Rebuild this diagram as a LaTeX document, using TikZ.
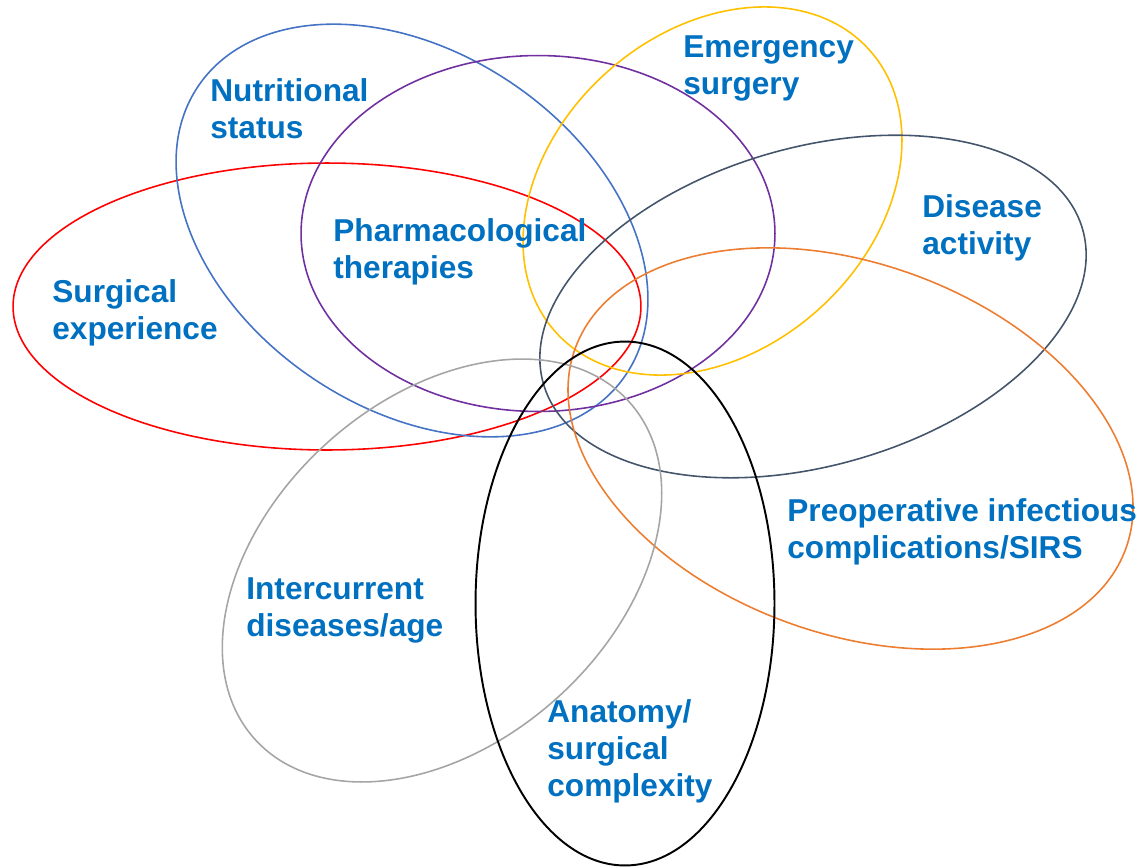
\documentclass[tikz,border=0pt]{standalone}
\usepackage{fontspec}
\setmainfont{Liberation Sans}
\usepackage{tikz}
\usetikzlibrary{shapes.geometric}

\definecolor{ringred}{HTML}{FF0000}
\definecolor{ringblue}{HTML}{4472C4}
\definecolor{ringpurple}{HTML}{7030A0}
\definecolor{ringyellow}{HTML}{FFC000}
\definecolor{ringslate}{HTML}{44546A}
\definecolor{ringorange}{HTML}{ED7D31}
\definecolor{ringgray}{HTML}{A5A5A5}
\definecolor{lbltext}{HTML}{0070C0}

\tikzset{
    ring/.style={shape=ellipse, draw, line width=0.9pt, inner sep=0pt, outer sep=0pt},
    factor/.style={anchor=base west, align=left, inner sep=0pt, text=lbltext,
        font=\fontsize{18}{21}\selectfont\bfseries}}

\begin{document}
\begin{tikzpicture}[x=0.02cm, y=-0.02cm]
    \useasboundingbox (0,0) rectangle (1142,866);

    \node[ring, draw=ringred, minimum width=12.56cm, minimum height=5.74cm] (surg) at (327,306.5) {};
    \node[ring, draw=ringblue, minimum width=10.32cm, minimum height=7.12cm, rotate=-34] (nutr) at (412,230.5) {};
    \node[ring, draw=ringpurple, minimum width=9.48cm, minimum height=7.12cm] (pharm) at (538,233.5) {};
    \node[ring, draw=ringyellow, minimum width=8.44cm, minimum height=6.36cm, rotate=42] (emerg) at (712.5,191) {};
    \node[ring, draw=ringslate, minimum width=11.22cm, minimum height=6.36cm, rotate=16] (dis) at (813,306.5) {};
    \node[ring, draw=ringorange, minimum width=11.72cm, minimum height=7.40cm, rotate=-20] (preop) at (850.5,448.5) {};
    \node[ring, draw=ringgray, minimum width=10.08cm, minimum height=6.87cm, rotate=42] (inter) at (442,570.5) {};
    \node[ring, draw=black, line width=1.1pt, minimum width=5.98cm, minimum height=10.48cm] (anat) at (625,603.5) {};

    % labels sit on the baseline of their last line
    \node[factor] (nutrlbl) at (210,138) {Nutritional\\status};
    \node[factor] (emerglbl) at (683,94) {Emergency\\surgery};
    \node[factor] (pharmlbl) at (333,278) {Pharmacological\\therapies};
    \node[factor] (dislbl) at (922,254) {Disease\\activity};
    \node[factor] (surglbl) at (52,339) {Surgical\\experience};
    \node[factor] (preoplbl) at (787,558) {Preoperative infectious\\complications/SIRS};
    \node[factor] (interlbl) at (246,636) {Intercurrent\\diseases/age};
    \node[factor] (anatlbl) at (547,796) {Anatomy/\\surgical\\complexity};
\end{tikzpicture}
\end{document}
